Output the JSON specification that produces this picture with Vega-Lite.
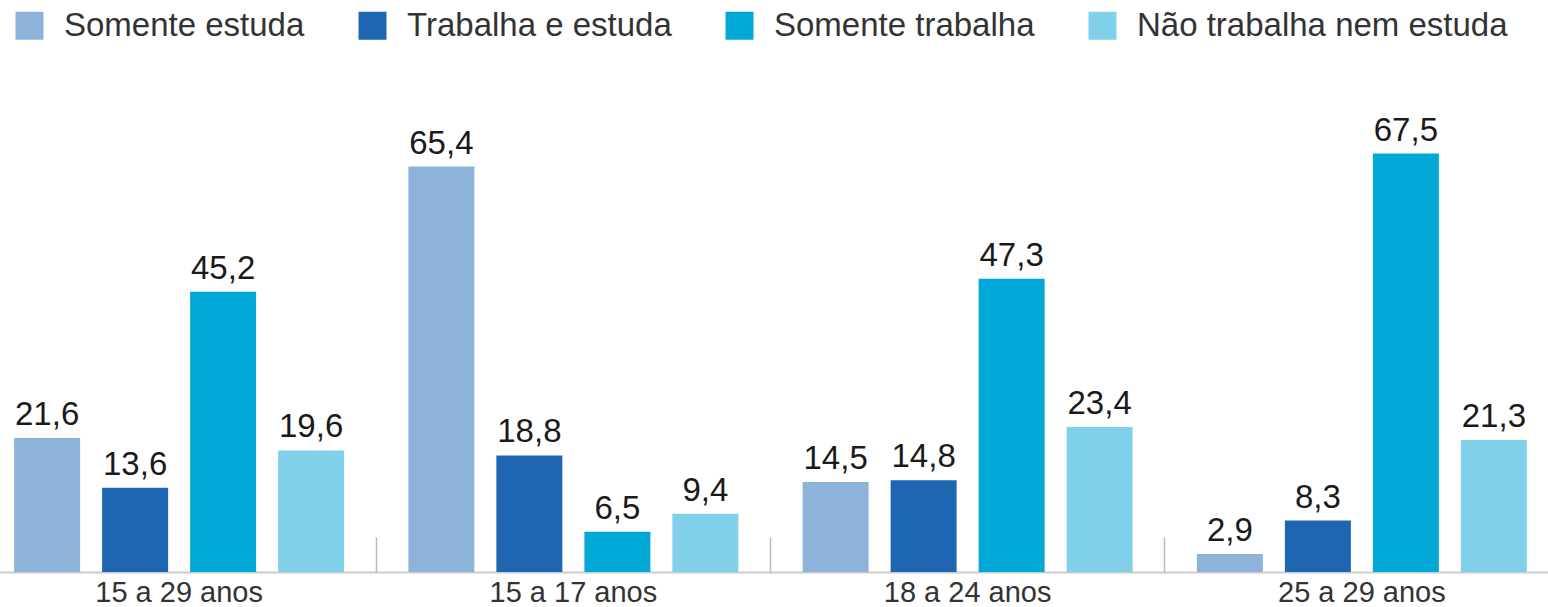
{
  "$schema": "https://vega.github.io/schema/vega-lite/v6.json",
  "width": 1548,
  "height": 572,
  "autosize": {"type": "none"},
  "padding": {"left": 0, "top": 0, "right": 0, "bottom": 35},
  "background": "white",
  "config": {
    "view": {"stroke": null},
    "font": "Liberation Sans",
    "locale": {"number": {"decimal": ",", "thousands": ".", "grouping": [3], "currency": ["R$", ""]}}
  },
  "data": {
    "values": [
      {"grupo": "15 a 29 anos", "situacao": "Somente estuda", "valor": 21.6},
      {"grupo": "15 a 29 anos", "situacao": "Trabalha e estuda", "valor": 13.6},
      {"grupo": "15 a 29 anos", "situacao": "Somente trabalha", "valor": 45.2},
      {"grupo": "15 a 29 anos", "situacao": "Não trabalha nem estuda", "valor": 19.6},
      {"grupo": "15 a 17 anos", "situacao": "Somente estuda", "valor": 65.4},
      {"grupo": "15 a 17 anos", "situacao": "Trabalha e estuda", "valor": 18.8},
      {"grupo": "15 a 17 anos", "situacao": "Somente trabalha", "valor": 6.5},
      {"grupo": "15 a 17 anos", "situacao": "Não trabalha nem estuda", "valor": 9.4},
      {"grupo": "18 a 24 anos", "situacao": "Somente estuda", "valor": 14.5},
      {"grupo": "18 a 24 anos", "situacao": "Trabalha e estuda", "valor": 14.8},
      {"grupo": "18 a 24 anos", "situacao": "Somente trabalha", "valor": 47.3},
      {"grupo": "18 a 24 anos", "situacao": "Não trabalha nem estuda", "valor": 23.4},
      {"grupo": "25 a 29 anos", "situacao": "Somente estuda", "valor": 2.9},
      {"grupo": "25 a 29 anos", "situacao": "Trabalha e estuda", "valor": 8.3},
      {"grupo": "25 a 29 anos", "situacao": "Somente trabalha", "valor": 67.5},
      {"grupo": "25 a 29 anos", "situacao": "Não trabalha nem estuda", "valor": 21.3}
    ]
  },
  "encoding": {
    "x": {
      "field": "grupo", "type": "nominal",
      "sort": ["15 a 29 anos", "15 a 17 anos", "18 a 24 anos", "25 a 29 anos"],
      "scale": {"range": [-18, 1559], "paddingInner": 0, "paddingOuter": 0},
      "title": null
    },
    "xOffset": {
      "field": "situacao", "type": "nominal",
      "sort": ["Somente estuda", "Trabalha e estuda", "Somente trabalha", "Não trabalha nem estuda"],
      "scale": {"paddingInner": 0.25, "paddingOuter": 0.365}
    },
    "y": {
      "field": "valor", "type": "quantitative",
      "scale": {"domain": [0, 92.26], "nice": false, "zero": true},
      "axis": null
    }
  },
  "layer": [
    {
      "mark": {"type": "bar"},
      "encoding": {
        "x": {
          "field": "grupo", "type": "nominal",
          "sort": ["15 a 29 anos", "15 a 17 anos", "18 a 24 anos", "25 a 29 anos"],
          "title": null,
          "axis": {
            "orient": "bottom",
            "labelAngle": 0, "labelFontSize": 29, "labelColor": "#333333", "labelPadding": 6,
            "ticks": false, "domainColor": "#cccccc", "domainWidth": 2, "grid": false
          }
        },
        "color": {
          "field": "situacao", "type": "nominal",
          "sort": ["Somente estuda", "Trabalha e estuda", "Somente trabalha", "Não trabalha nem estuda"],
          "scale": {
            "domain": ["Somente estuda", "Trabalha e estuda", "Somente trabalha", "Não trabalha nem estuda"],
            "range": ["#8db3da", "#1f66b2", "#00a7d7", "#80d0ea"]
          },
          "legend": {
            "orient": "none", "legendX": 13, "legendY": 9, "direction": "horizontal",
            "title": null, "padding": 0, "columnPadding": 51,
            "symbolType": "square", "symbolSize": 784, "symbolStrokeWidth": 0, "symbolOpacity": 1,
            "labelFontSize": 33, "labelColor": "#333333", "labelOffset": 18, "labelLimit": 600
          }
        }
      }
    },
    {
      "mark": {"type": "text", "baseline": "alphabetic", "dy": -13, "fontSize": 33, "color": "#1a1a1a"},
      "encoding": {
        "x": {
          "field": "grupo", "type": "nominal",
          "sort": ["15 a 29 anos", "15 a 17 anos", "18 a 24 anos", "25 a 29 anos"],
          "title": null,
          "axis": {
            "orient": "bottom",
            "labels": false, "domain": false, "grid": false, "bandPosition": 0,
            "ticks": true, "tickSize": -35, "tickColor": "#bbbbbb", "tickWidth": 1.5
          }
        },
        "text": {"field": "valor", "type": "quantitative", "format": ".1f"}
      }
    }
  ],
  "resolve": {"axis": {"x": "independent"}}
}
